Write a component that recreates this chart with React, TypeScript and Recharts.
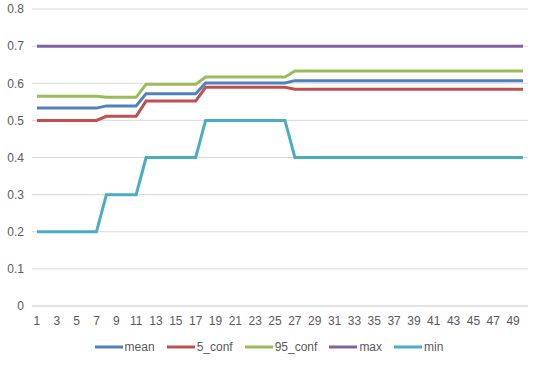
import { CartesianGrid, Legend, Line, LineChart, XAxis, YAxis } from "recharts"

// x positions 1..50
const runs = [
  1, 2, 3, 4, 5, 6, 7, 8, 9, 10, 11, 12, 13, 14, 15, 16, 17, 18, 19, 20, 21, 22, 23, 24, 25,
  26, 27, 28, 29, 30, 31, 32, 33, 34, 35, 36, 37, 38, 39, 40, 41, 42, 43, 44, 45, 46, 47, 48, 49, 50,
]

const mean = [
  0.533, 0.533, 0.533, 0.533, 0.533, 0.533, 0.533, 0.539, 0.539, 0.539, 0.539, 0.572, 0.572,
  0.572, 0.572, 0.572, 0.572, 0.601, 0.601, 0.601, 0.601, 0.601, 0.601, 0.601, 0.601, 0.601,
  0.607, 0.607, 0.607, 0.607, 0.607, 0.607, 0.607, 0.607, 0.607, 0.607, 0.607, 0.607, 0.607,
  0.607, 0.607, 0.607, 0.607, 0.607, 0.607, 0.607, 0.607, 0.607, 0.607, 0.607,
]

const conf5 = [
  0.5, 0.5, 0.5, 0.5, 0.5, 0.5, 0.5, 0.511, 0.511, 0.511, 0.511, 0.552, 0.552, 0.552, 0.552,
  0.552, 0.552, 0.589, 0.589, 0.589, 0.589, 0.589, 0.589, 0.589, 0.589, 0.589, 0.584, 0.584,
  0.584, 0.584, 0.584, 0.584, 0.584, 0.584, 0.584, 0.584, 0.584, 0.584, 0.584, 0.584, 0.584,
  0.584, 0.584, 0.584, 0.584, 0.584, 0.584, 0.584, 0.584, 0.584,
]

const conf95 = [
  0.565, 0.565, 0.565, 0.565, 0.565, 0.565, 0.565, 0.562, 0.562, 0.562, 0.562, 0.597, 0.597,
  0.597, 0.597, 0.597, 0.597, 0.617, 0.617, 0.617, 0.617, 0.617, 0.617, 0.617, 0.617, 0.617,
  0.633, 0.633, 0.633, 0.633, 0.633, 0.633, 0.633, 0.633, 0.633, 0.633, 0.633, 0.633, 0.633,
  0.633, 0.633, 0.633, 0.633, 0.633, 0.633, 0.633, 0.633, 0.633, 0.633, 0.633,
]

const maxv = [
  0.7, 0.7, 0.7, 0.7, 0.7, 0.7, 0.7, 0.7, 0.7, 0.7, 0.7, 0.7, 0.7, 0.7, 0.7, 0.7, 0.7, 0.7, 0.7,
  0.7, 0.7, 0.7, 0.7, 0.7, 0.7, 0.7, 0.7, 0.7, 0.7, 0.7, 0.7, 0.7, 0.7, 0.7, 0.7, 0.7, 0.7, 0.7,
  0.7, 0.7, 0.7, 0.7, 0.7, 0.7, 0.7, 0.7, 0.7, 0.7, 0.7, 0.7,
]

const minv = [
  0.2, 0.2, 0.2, 0.2, 0.2, 0.2, 0.2, 0.3, 0.3, 0.3, 0.3, 0.4, 0.4, 0.4, 0.4, 0.4, 0.4, 0.5, 0.5,
  0.5, 0.5, 0.5, 0.5, 0.5, 0.5, 0.5, 0.4, 0.4, 0.4, 0.4, 0.4, 0.4, 0.4, 0.4, 0.4, 0.4, 0.4, 0.4,
  0.4, 0.4, 0.4, 0.4, 0.4, 0.4, 0.4, 0.4, 0.4, 0.4, 0.4, 0.4,
]

const yTicks = [0, 0.1, 0.2, 0.3, 0.4, 0.5, 0.6, 0.7, 0.8]

const series = [
  { key: "mean", color: "#4f81bd" },
  { key: "5_conf", color: "#c0504d" },
  { key: "95_conf", color: "#9bbb59" },
  { key: "max", color: "#8064a2" },
  { key: "min", color: "#4bacc6" },
]

const data = runs.map((x, i) => ({
  x,
  mean: mean[i],
  "5_conf": conf5[i],
  "95_conf": conf95[i],
  max: maxv[i],
  min: minv[i],
}))

const FONT = "'Liberation Sans', Arial, sans-serif"

function ExcelLegend() {
  return (
    <div
      style={{
        display: "flex",
        justifyContent: "center",
        gap: 12,
        fontFamily: FONT,
        fontSize: 12,
        color: "#595959",
        paddingLeft: 10,
        paddingTop: 6,
      }}
    >
      {series.map((s) => (
        <div key={s.key} style={{ display: "flex", alignItems: "center" }}>
          <svg width={28} height={6} style={{ marginRight: 2 }}>
            <line x1={0} y1={3} x2={28} y2={3} stroke={s.color} strokeWidth={3} />
          </svg>
          <span>{s.key}</span>
        </div>
      ))}
    </div>
  )
}

export default function App() {
  return (
    <div style={{ width: 541, height: 366, background: "#fff" }}>
      <style>{`body{margin:0}`}</style>
      <LineChart width={541} height={366} data={data} margin={{ top: 9, right: 13, left: 0, bottom: 0 }}>
        <CartesianGrid vertical={false} stroke="#d9d9d9" />
        <XAxis
          dataKey="x"
          scale="band"
          interval={1}
          tickLine={false}
          axisLine={{ stroke: "#d9d9d9" }}
          tick={{ fill: "#595959", fontSize: 12, fontFamily: FONT }}
          tickMargin={4}
          height={28}
        />
        <YAxis
          width={32}
          domain={[0, 0.8]}
          ticks={yTicks}
          tickLine={false}
          axisLine={false}
          tick={{ fill: "#595959", fontSize: 12, fontFamily: FONT }}
          tickFormatter={(v: number) => (v === 0 ? "0" : String(v))}
          tickMargin={2}
        />
        <Legend verticalAlign="bottom" height={32} content={<ExcelLegend />} />
        {series.map((s) => (
          <Line
            key={s.key}
            dataKey={s.key}
            stroke={s.color}
            strokeWidth={3}
            dot={false}
            type="linear"
            isAnimationActive={false}
          />
        ))}
      </LineChart>
    </div>
  )
}
